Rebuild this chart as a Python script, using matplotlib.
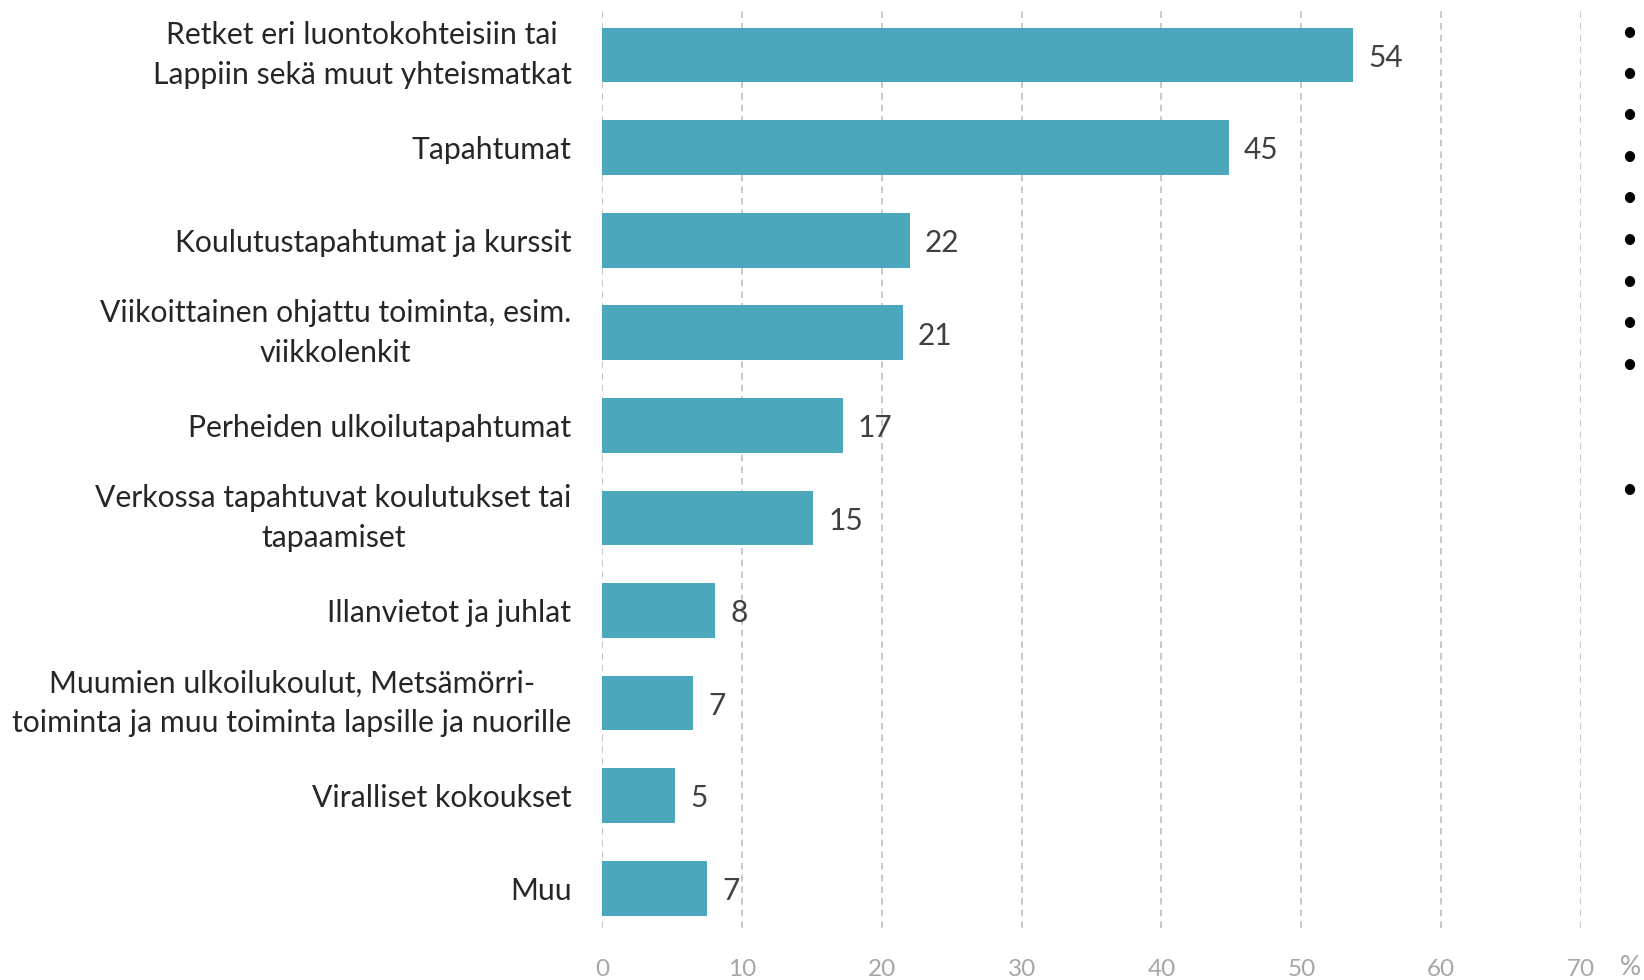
import numpy as np
import matplotlib
matplotlib.use("Agg")
import matplotlib.pyplot as plt

categories = [
    "Retket eri luontokohteisiin tai\nLappiin sekä muut yhteismatkat",
    "Tapahtumat",
    "Koulutustapahtumat ja kurssit",
    "Viikoittainen ohjattu toiminta, esim.\nviikkolenkit",
    "Perheiden ulkoilutapahtumat",
    "Verkossa tapahtuvat koulutukset tai\ntapaamiset",
    "Illanvietot ja juhlat",
    "Muumien ulkoilukoulut, Metsämörri-\ntoiminta ja muu toiminta lapsille ja nuorille",
    "Viralliset kokoukset",
    "Muu",
]
values = [53.7, 44.8, 22.0, 21.5, 17.2, 15.1, 8.1, 6.5, 5.2, 7.5]
value_labels = ["54", "45", "22", "21", "17", "15", "8", "7", "5", "7"]
xticks = [0, 10, 20, 30, 40, 50, 60, 70]

plt.rcParams["font.family"] = ["Lato", "DejaVu Sans"]

fig = plt.figure(figsize=(16.44, 9.8), dpi=100)
ax = fig.add_axes([0.3662, 0.053, 0.5955, 0.939])

y = np.arange(len(categories))
ax.barh(y, values, height=0.59, color="#4BA7BC", zorder=2)

for yi, v, lab in zip(y, values, value_labels):
    ax.annotate(lab, (v, yi + 0.03), xytext=(11, 0), textcoords="offset points",
                ha="left", va="center", fontsize=21.5, color="#404040")

ax.set_xlim(0, 70)
ax.set_ylim(9.43, -0.51)
ax.set_xticks(xticks)
ax.set_xticklabels([str(t) for t in xticks], color="#A6A6A6", fontsize=17.5)
ax.set_yticks(y)
ax.set_yticklabels(categories, fontsize=21.7, color="#262626",
                   multialignment="center", linespacing=1.5)
# two-line labels sit too low with the default baseline centering
for t in ax.get_yticklabels():
    if "\n" in t.get_text():
        t.set_va("center")
ax.tick_params(axis="both", length=0)
ax.tick_params(axis="x", pad=22)
ax.tick_params(axis="y", pad=22)
ax.grid(axis="x", linestyle=(0, (4, 3)), color="#BFBFBF", linewidth=1.2, zorder=0)
for s in ax.spines.values():
    s.set_visible(False)

fig.text(1630 / 1644, 1 - 967 / 980, "%", color="#A6A6A6", fontsize=19,
         ha="center", va="center")

# stray bullet marks on the right edge of the original
for yy in [33, 74, 115, 157, 198, 240, 282, 323, 365, 490]:
    fig.text(1629 / 1644, 1 - yy / 980, "•", fontsize=20, color="black",
             ha="center", va="center")

fig.savefig("out.png", dpi=100)
